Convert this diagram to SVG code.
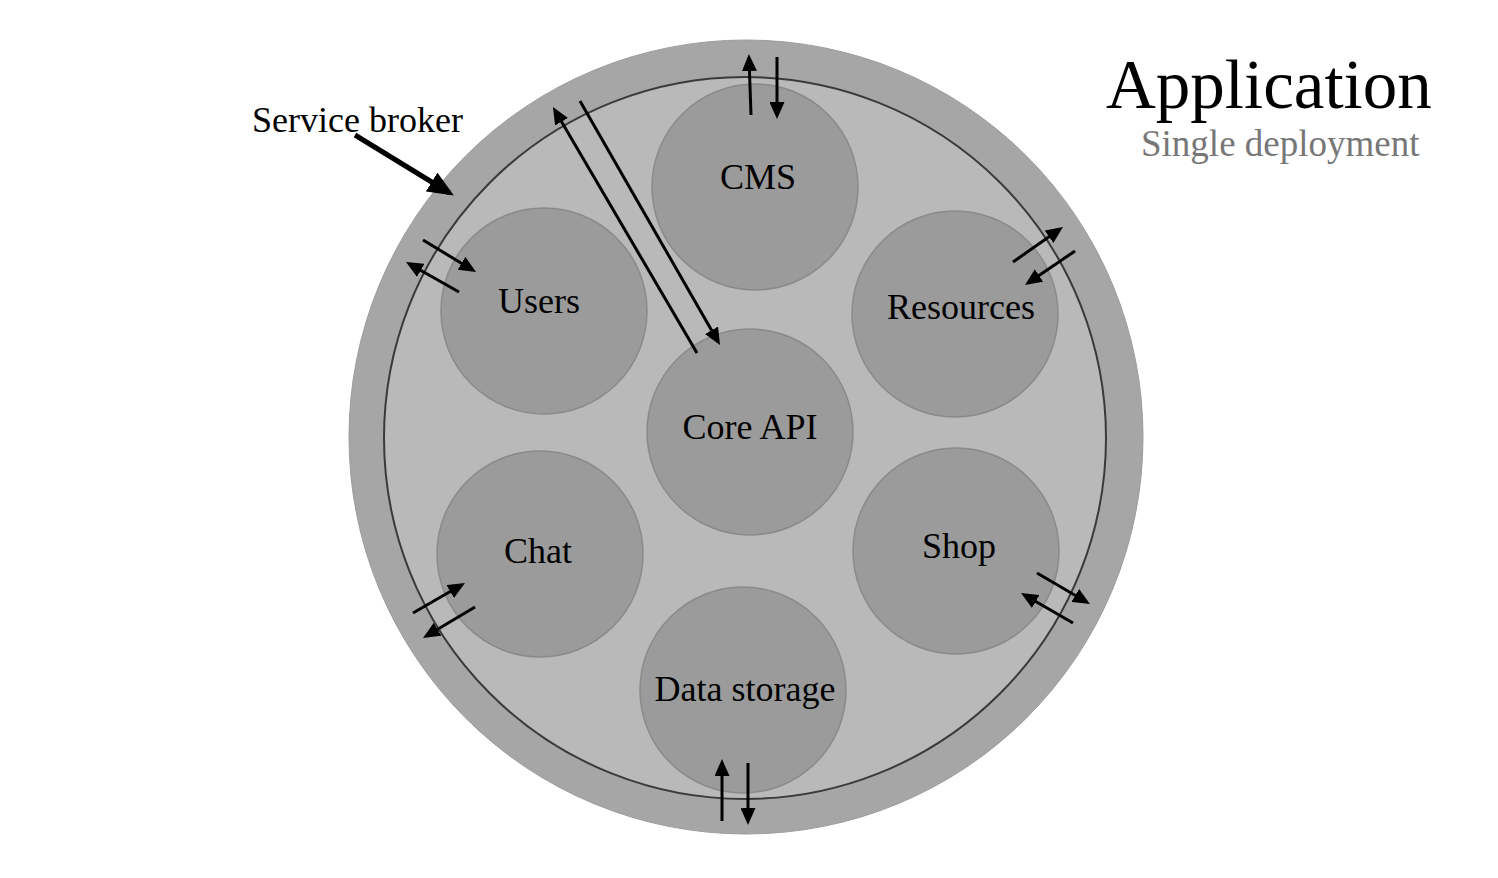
<svg xmlns="http://www.w3.org/2000/svg" width="1498" height="878" viewBox="0 0 1498 878">
<style>
.node{fill:#9b9b9b;stroke:#8a8a8a;stroke-width:1.5}
.lbl{font-family:"Liberation Serif","Times New Roman",serif;font-size:36px;fill:#000;text-anchor:middle}
.arr{stroke:#000;stroke-width:3;fill:none;marker-end:url(#ah)}
</style>
<defs>
<marker id="ah" viewBox="0 0 17 15" refX="13" refY="7.5" markerWidth="17" markerHeight="15" markerUnits="userSpaceOnUse" orient="auto">
<path d="M0,0 L17,7.5 L0,15 z" fill="#000"/>
</marker>
<marker id="ahb" viewBox="0 0 26 22" refX="21" refY="11" markerWidth="26" markerHeight="22" markerUnits="userSpaceOnUse" orient="auto">
<path d="M0,0 L26,11 L0,22 z" fill="#000"/>
</marker>
</defs>
<rect width="1498" height="878" fill="#fff"/>
<g id="application">
<circle cx="746" cy="437" r="397" fill="#a6a6a6" stroke="#9c9c9c" stroke-width="1"/>
<circle id="service-broker-ring" cx="745" cy="438" r="361" fill="#b9b9b9" stroke="#3a3a3a" stroke-width="2"/>
</g>
<g id="cms"><circle class="node" cx="755" cy="187" r="103"/><text class="lbl" x="758" y="189">CMS</text></g>
<g id="users"><circle class="node" cx="544" cy="311" r="103"/><text class="lbl" x="539" y="313">Users</text></g>
<g id="resources"><circle class="node" cx="955" cy="314" r="103"/><text class="lbl" x="961" y="319">Resources</text></g>
<g id="core-api"><circle class="node" cx="750" cy="432" r="103"/><text class="lbl" x="750" y="439">Core API</text></g>
<g id="chat"><circle class="node" cx="540" cy="554" r="103"/><text class="lbl" x="538" y="563">Chat</text></g>
<g id="shop"><circle class="node" cx="956" cy="551" r="103"/><text class="lbl" x="959" y="558">Shop</text></g>
<g id="data-storage"><circle class="node" cx="743" cy="690" r="103"/><text class="lbl" x="745" y="701">Data storage</text></g>
<g id="title">
<text x="1106" y="108" font-family="'Liberation Serif','Times New Roman',serif" font-size="69" fill="#000">Application</text>
<text x="1141" y="156" font-family="'Liberation Serif','Times New Roman',serif" font-size="37" fill="#777">Single deployment</text>
</g>
<g id="broker-label">
<text x="252" y="132" font-family="'Liberation Serif','Times New Roman',serif" font-size="36" fill="#000">Service broker</text>
</g>
<g id="connectors">
<line x1="355" y1="135" x2="449.6" y2="193" stroke="#000" stroke-width="5" marker-end="url(#ahb)"/>
<line class="arr" x1="751" y1="115" x2="749" y2="58"/>
<line class="arr" x1="777" y1="57" x2="777" y2="115"/>
<line class="arr" x1="697" y1="353" x2="555" y2="110.5"/>
<line class="arr" x1="580" y1="101" x2="718" y2="341.5"/>
<line class="arr" x1="423" y1="240" x2="472.6" y2="270"/>
<line class="arr" x1="459" y1="292" x2="409.5" y2="264"/>
<line class="arr" x1="1013" y1="262" x2="1059.7" y2="229.3"/>
<line class="arr" x1="1075" y1="251" x2="1028.3" y2="282.8"/>
<line class="arr" x1="413" y1="613" x2="461.5" y2="585"/>
<line class="arr" x1="475" y1="607" x2="426.4" y2="636"/>
<line class="arr" x1="1037" y1="573" x2="1086.5" y2="602"/>
<line class="arr" x1="1073" y1="623" x2="1024.5" y2="595"/>
<line class="arr" x1="722" y1="821" x2="722" y2="763"/>
<line class="arr" x1="748" y1="763" x2="748" y2="821"/>
</g>
</svg>
